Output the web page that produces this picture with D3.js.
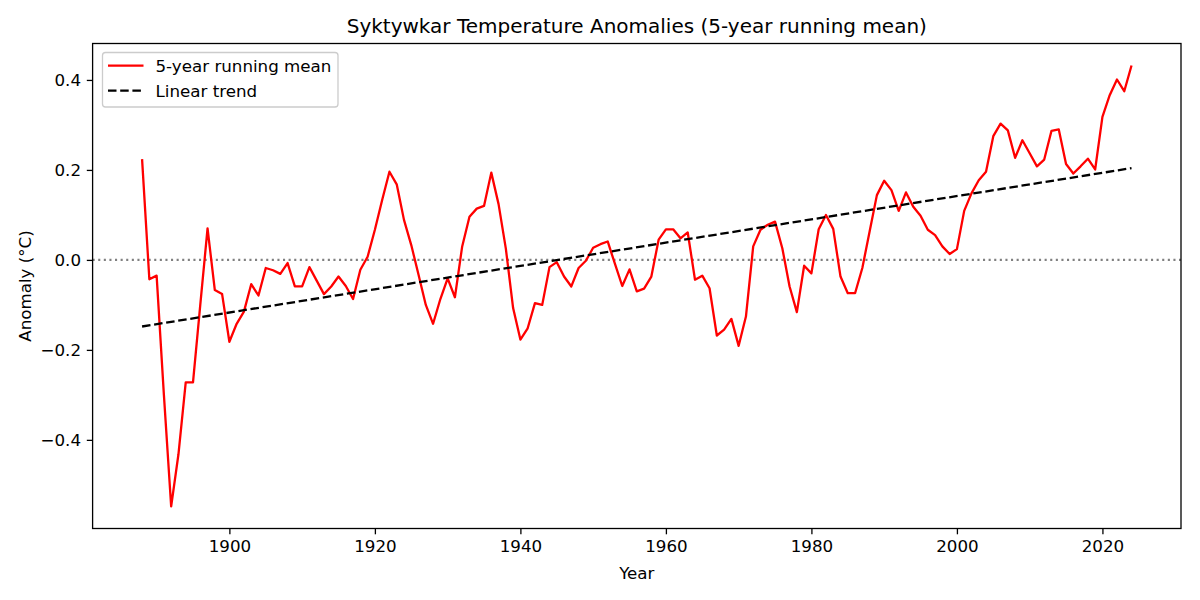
<!DOCTYPE html>
<html>
<head>
<meta charset="utf-8">
<script src="https://cdn.jsdelivr.net/npm/d3@7"></script>
<style>
  body { margin: 0; background: #fff; }
  svg { display: block; font-family: "DejaVu Sans", sans-serif; }
</style>
</head>
<body>
<svg id="chart" width="1200" height="600"></svg>
<script>
// ---- data ----
const years = d3.range(1888, 2025);
const runningMean = [
  0.224, -0.043, -0.035, -0.300, -0.548, -0.432, -0.272, -0.272, -0.100, 0.070, // 1888-1897
  -0.067, -0.076, -0.182, -0.142, -0.115, -0.054, -0.079, -0.018, -0.023, -0.031, // 1898-1907
  -0.007, -0.059, -0.059, -0.016, -0.046, -0.076, -0.059, -0.037, -0.058, -0.087, // 1908-1917
  -0.022, 0.007, 0.067, 0.133, 0.196, 0.168, 0.089, 0.033, -0.033, -0.100,        // 1918-1927
  -0.142, -0.087, -0.041, -0.083, 0.030, 0.096, 0.114, 0.120, 0.194, 0.124,       // 1928-1937
  0.025, -0.107, -0.177, -0.152, -0.096, -0.100, -0.016, -0.005, -0.037, -0.059,  // 1938-1947
  -0.018, -0.002, 0.027, 0.035, 0.041, -0.009, -0.058, -0.021, -0.070, -0.064,    // 1948-1957
  -0.037, 0.045, 0.068, 0.068, 0.048, 0.061, -0.044, -0.035, -0.063, -0.168,      // 1958-1967
  -0.155, -0.131, -0.191, -0.126, 0.030, 0.067, 0.078, 0.085, 0.026, -0.059,      // 1968-1977
  -0.116, -0.013, -0.030, 0.068, 0.100, 0.069, -0.037, -0.074, -0.074, -0.018,    // 1978-1987
  0.063, 0.144, 0.176, 0.155, 0.109, 0.150, 0.118, 0.098, 0.067, 0.055,          // 1988-1997
  0.030, 0.013, 0.024, 0.109, 0.148, 0.177, 0.196, 0.275, 0.303, 0.288,          // 1998-2007
  0.227, 0.266, 0.237, 0.208, 0.223, 0.287, 0.290, 0.213, 0.192, 0.208,          // 2008-2017
  0.225, 0.201, 0.318, 0.366, 0.401, 0.375, 0.432                                // 2018-2024
];
const trendYears = [1888, 2024];
const trendValues = [-0.148, 0.204];
const xTicks = [1900, 1920, 1940, 1960, 1980, 2000, 2020];
const yTicks = [-0.4, -0.2, 0.0, 0.2, 0.4];
const seriesLabels = ["5-year running mean", "Linear trend"];
const titleText = "Syktywkar Temperature Anomalies (5-year running mean)";

// ---- layout ----
const svg = d3.select("#chart");
const mLeft = 92.6, mRight = 1181, mTop = 43.5, mBottom = 528.5;
const fs = 16.7, lw = 2.3;

const xMin = d3.min(years), xMax = d3.max(years);
const xPad = (xMax - xMin) * 0.05;
const x = d3.scaleLinear().domain([xMin - xPad, xMax + xPad]).range([mLeft, mRight]);

const yMinV = d3.min(runningMean), yMaxV = d3.max(runningMean);
const yPad = (yMaxV - yMinV) * 0.05;
const y = d3.scaleLinear().domain([yMinV - yPad, yMaxV + yPad]).range([mBottom, mTop]);

const fmt = v => d3.format(".1f")(v).replace("-", "\u2212");

// clip
svg.append("defs").append("clipPath").attr("id", "clip")
  .append("rect").attr("x", mLeft).attr("y", mTop).attr("width", mRight - mLeft).attr("height", mBottom - mTop);

const plot = svg.append("g").attr("clip-path", "url(#clip)");

// zero line (dotted gray)
plot.append("line")
  .attr("x1", mLeft).attr("x2", mRight)
  .attr("y1", y(0)).attr("y2", y(0))
  .attr("stroke", "#808080").attr("stroke-width", 2.1)
  .attr("stroke-dasharray", "2.1,3.5");

// running mean line
const line = d3.line().x((d, i) => x(years[i])).y(d => y(d));
plot.append("path")
  .datum(runningMean)
  .attr("d", line)
  .attr("fill", "none")
  .attr("stroke", "#ff0000")
  .attr("stroke-width", lw)
  .attr("stroke-linejoin", "round");

// trend line
const tline = d3.line().x((d, i) => x(trendYears[i])).y(d => y(d));
plot.append("path")
  .datum(trendValues)
  .attr("d", tline)
  .attr("fill", "none")
  .attr("stroke", "#000")
  .attr("stroke-width", lw)
  .attr("stroke-dasharray", "8.5,3.7");

// axes
const xAxis = d3.axisBottom(x).tickValues(xTicks).tickFormat(d3.format("d")).tickSizeOuter(0).tickSize(5.8).tickPadding(5.8);
const yAxis = d3.axisLeft(y).tickValues(yTicks).tickFormat(fmt).tickSizeOuter(0).tickSize(5.8).tickPadding(5.8);

const gx = svg.append("g").attr("transform", `translate(0,${mBottom})`).call(xAxis);
const gy = svg.append("g").attr("transform", `translate(${mLeft},0)`).call(yAxis);
[gx, gy].forEach(g => {
  g.select(".domain").remove();
  g.selectAll("line").attr("stroke", "#000").attr("stroke-width", 1.3);
  g.selectAll("text").attr("font-size", fs + "px").attr("fill", "#000")
    .attr("font-family", "DejaVu Sans, sans-serif");
});

// frame
svg.append("rect")
  .attr("x", mLeft).attr("y", mTop).attr("width", mRight - mLeft).attr("height", mBottom - mTop)
  .attr("fill", "none").attr("stroke", "#000").attr("stroke-width", 1.3);

// title and labels
svg.append("text")
  .attr("x", (mLeft + mRight) / 2).attr("y", 33)
  .attr("text-anchor", "middle").attr("font-size", "20px").attr("fill", "#000")
  .text(titleText);

svg.append("text")
  .attr("x", (mLeft + mRight) / 2).attr("y", 579)
  .attr("text-anchor", "middle").attr("font-size", fs + "px").attr("fill", "#000")
  .text("Year");

svg.append("text")
  .attr("transform", `translate(31,${(mTop + mBottom) / 2}) rotate(-90)`)
  .attr("text-anchor", "middle").attr("font-size", fs + "px").attr("fill", "#000")
  .text("Anomaly (\u00B0C)");

// legend
const lg = svg.append("g");
lg.append("rect")
  .attr("x", 102.5).attr("y", 52.5).attr("width", 235.5).attr("height", 54.5)
  .attr("rx", 3).attr("ry", 3)
  .attr("fill", "#fff").attr("fill-opacity", 0.8)
  .attr("stroke", "#cccccc").attr("stroke-width", 1.3);

const legendItems = [
  { label: seriesLabels[0], color: "#ff0000", dash: null, cy: 65.7 },
  { label: seriesLabels[1], color: "#000", dash: "8.5,3.7", cy: 90.7 }
];
legendItems.forEach(it => {
  lg.append("line")
    .attr("x1", 108).attr("x2", 143.5).attr("y1", it.cy).attr("y2", it.cy)
    .attr("stroke", it.color).attr("stroke-width", lw)
    .attr("stroke-dasharray", it.dash);
  lg.append("text")
    .attr("x", 155.5).attr("y", it.cy).attr("dy", "0.36em")
    .attr("font-size", fs + "px").attr("fill", "#000")
    .text(it.label);
});
</script>
</body>
</html>
